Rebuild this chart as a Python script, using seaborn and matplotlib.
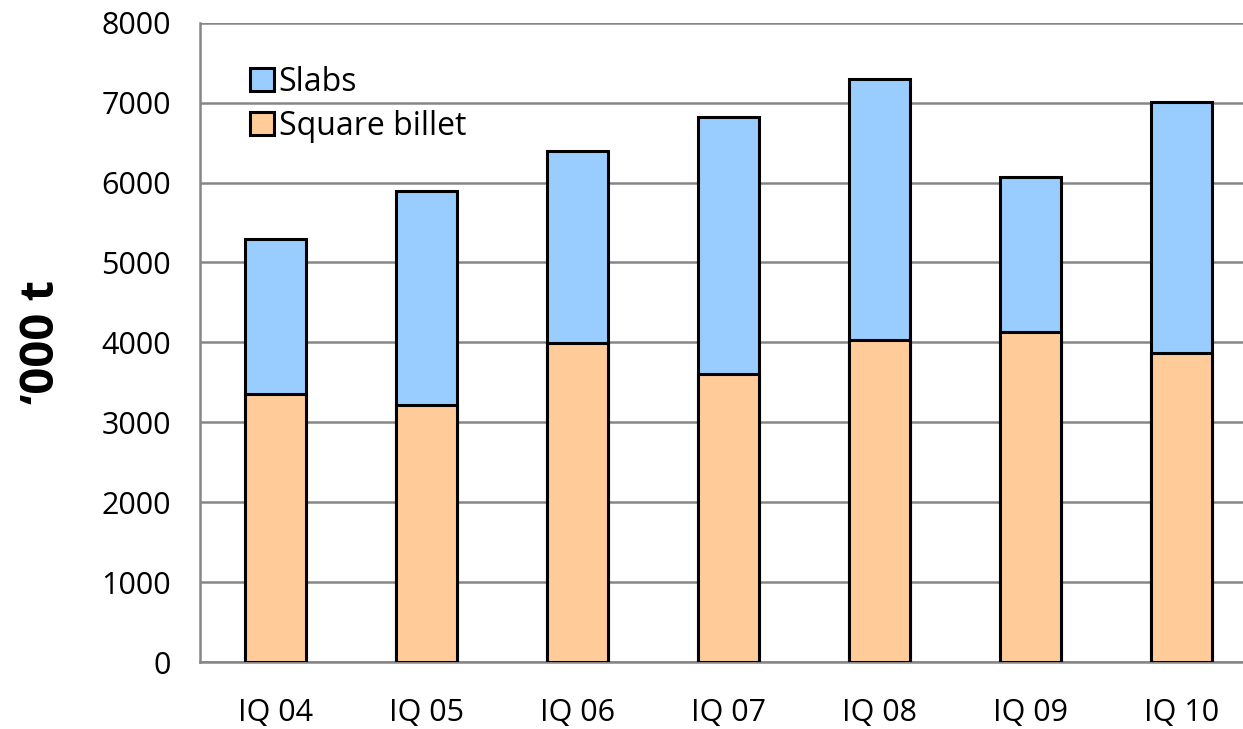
import numpy as np
import pandas as pd
import matplotlib
matplotlib.use("Agg")
import matplotlib.pyplot as plt
import seaborn as sns
from matplotlib.patches import Patch

# 数据
quarters = ['IQ 04', 'IQ 05', 'IQ 06', 'IQ 07', 'IQ 08', 'IQ 09', 'IQ 10']
square_billet = [3350, 3220, 3990, 3600, 4030, 4130, 3870]
slabs = [1940, 2680, 2410, 3220, 3270, 1940, 3140]

sns.set_style("white")
plt.rcParams['font.family'] = ['Open Sans', 'DejaVu Sans']
plt.rcParams['text.color'] = 'black'
plt.rcParams['xtick.labelcolor'] = 'black'
plt.rcParams['ytick.labelcolor'] = 'black'
plt.rcParams['axes.labelcolor'] = 'black'

df = pd.DataFrame({'quarter': quarters,
                   'billet': square_billet,
                   'slabs': slabs})
df['total'] = df['billet'] + df['slabs']

slab_color = '#99ccff'
billet_color = '#ffcc99'
grid_color = '#868686'

fig = plt.figure(figsize=(12.43, 7.29), dpi=100)
ax = fig.add_axes([200 / 1243, 67 / 729, 1057 / 1243, 639.3 / 729])

sns.barplot(data=df, x='quarter', y='total', color=slab_color, width=0.4,
            edgecolor='black', linewidth=2.2, saturation=1, ax=ax, zorder=3)
sns.barplot(data=df, x='quarter', y='billet', color=billet_color, width=0.4,
            edgecolor='black', linewidth=2.2, saturation=1, ax=ax, zorder=4)

ax.set_xlim(-0.5, 6.5)
ax.set_ylim(0, 8000)
ax.set_yticks(np.arange(0, 8001, 1000))
ax.yaxis.grid(True, color=grid_color, linewidth=1.8, zorder=0)
ax.set_axisbelow(True)

for s in ['top', 'right']:
    ax.spines[s].set_visible(False)
for s in ['left', 'bottom']:
    ax.spines[s].set_color(grid_color)
    ax.spines[s].set_linewidth(1.8)

ax.tick_params(axis='y', which='major', length=7, width=1.8, color=grid_color,
               labelsize=22, pad=14, labelcolor='black')
ax.tick_params(axis='x', which='major', length=0, labelsize=22, pad=26,
               labelcolor='black')
ax.set_xticks(np.arange(-0.5, 7.0, 1.0), minor=True)
ax.tick_params(axis='x', which='minor', length=7, width=1.8, color=grid_color,
               direction='out')

ax.set_xlabel('')
ax.set_ylabel('‘000 t', fontsize=34, fontweight='bold', labelpad=26,
              color='black')

handles = [Patch(facecolor=slab_color, edgecolor='black', linewidth=2.2, label='Slabs'),
           Patch(facecolor=billet_color, edgecolor='black', linewidth=2.2, label='Square billet')]
ax.legend(handles=handles, loc='upper left', bbox_to_anchor=(0.035, 0.953),
          frameon=False, fontsize=23, handlelength=0.75, handleheight=0.75,
          handletextpad=0.15, labelspacing=0.35, borderaxespad=0)

fig.savefig('out.png', dpi=100)
